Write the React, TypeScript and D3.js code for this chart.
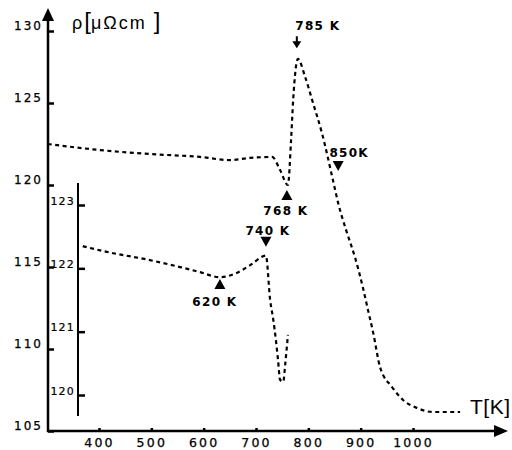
import { useEffect, useRef } from 'react'
import * as d3 from 'd3'

// upper curve, read on the outer rho axis (105..130 µΩcm)
const UPPER_T = [302, 402, 497, 593, 650, 688, 731, 746, 761, 767, 771, 780, 794, 809, 826, 847, 857, 874, 889, 904, 914, 924, 937, 960, 981, 1008, 1038, 1090]
const UPPER_RHO = [122.5, 122.13, 121.89, 121.71, 121.52, 121.65, 121.71, 120.91, 120.0, 122.74, 125.2, 128.06, 126.8, 125.0, 123.17, 120.3, 118.9, 117.07, 115.61, 113.78, 112.38, 110.98, 108.9, 107.68, 106.89, 106.4, 106.16, 106.16]

// lower curve, read on the inner axis (120..123 µΩcm)
const LOWER_T = [369, 415, 497, 555, 593, 631, 661, 689, 719, 727, 733, 738, 742, 746, 752, 756, 761]
const LOWER_RHO = [122.35, 122.26, 122.13, 122.02, 121.94, 121.86, 121.92, 122.05, 122.2, 121.5, 121.19, 120.87, 120.56, 120.24, 120.21, 120.5, 120.95]

const X_TICKS = [400, 500, 600, 700, 800, 900, 1000]
const Y_TICKS = [105, 110, 115, 120, 125, 130]
const INSET_TICKS = [120, 121, 122, 123]

// transition markers
const MARK_LABELS = ['785 K', '850K', '768 K', '740 K', '620 K']
const MARK_T = [778, 857, 759, 719, 631]
const MARK_RHO = [128.8, 120.85, 119.7, 122.34, 121.83]
const MARK_AXIS = ['outer', 'outer', 'outer', 'inner', 'inner']

const WIDTH = 512
const HEIGHT = 450

function App() {
  const svgRef = useRef<SVGSVGElement>(null)

  useEffect(() => {
    if (!svgRef.current) return
    const svg = d3.select(svgRef.current)
    svg.selectAll('*').remove()

    const originX = 48
    const originY = 431

    const x = d3.scaleLinear().domain([400, 1000]).range([99, 413])
    // the printed axis is not evenly spaced above 125
    const yOuter = d3.scaleLinear().domain([105, 125, 130]).range([originY, 103, 31])
    const yInner = d3.scaleLinear().domain([120, 123]).range([395, 205])
    const insetX = 78

    const ink = '#000'

    // curves
    const upper = d3.zip(UPPER_T, UPPER_RHO) as [number, number][]
    const lower = d3.zip(LOWER_T, LOWER_RHO) as [number, number][]

    const upperLine = d3.line<[number, number]>()
      .x(d => x(d[0]))
      .y(d => yOuter(d[1]))
      .curve(d3.curveMonotoneX)
    const lowerLine = d3.line<[number, number]>()
      .x(d => x(d[0]))
      .y(d => yInner(d[1]))
      .curve(d3.curveMonotoneX)

    svg.append('path')
      .datum(upper)
      .attr('d', upperLine)
      .attr('fill', 'none')
      .attr('stroke', ink)
      .attr('stroke-width', 2.2)
      .attr('stroke-dasharray', '4,3.5')

    svg.append('path')
      .datum(lower)
      .attr('d', lowerLine)
      .attr('fill', 'none')
      .attr('stroke', ink)
      .attr('stroke-width', 2.2)
      .attr('stroke-dasharray', '4,3.5')

    // x axis ticks + labels
    const xAxis = d3.axisBottom(x).tickValues(X_TICKS).tickSize(-3).tickPadding(7).tickFormat(d => `${d}`)
    const gx = svg.append('g').attr('transform', `translate(0,${originY})`).call(xAxis)
    gx.select('.domain').remove()
    gx.selectAll('line').attr('stroke', ink).attr('stroke-width', 2.5)
    gx.selectAll('text')
      .attr('fill', ink)
      .attr('stroke', ink)
      .attr('stroke-width', 0.25)
      .attr('font-family', 'DejaVu Sans')
      .attr('font-size', 12.5)
      .attr('letter-spacing', 2.2)

    // outer y axis
    const yAxis = d3.axisLeft(yOuter).tickValues(Y_TICKS).tickSize(-6).tickPadding(5).tickFormat(d => `${d}`)
    const gy = svg.append('g').attr('transform', `translate(${originX},0)`).call(yAxis)
    gy.select('.domain').remove()
    gy.selectAll('line').attr('stroke', ink).attr('stroke-width', 2.5)
    gy.selectAll('text')
      .attr('fill', ink)
      .attr('stroke', ink)
      .attr('stroke-width', 0.25)
      .attr('dy', -2)
      .attr('font-family', 'DejaVu Sans')
      .attr('font-size', 12)
      .attr('letter-spacing', 2)

    // inner axis for the lower curve
    const yAxis2 = d3.axisLeft(yInner).tickValues(INSET_TICKS).tickSize(-7).tickPadding(3).tickFormat(d => `${d}`)
    const gi = svg.append('g').attr('transform', `translate(${insetX},0)`).call(yAxis2)
    gi.select('.domain').remove()
    gi.selectAll('line').attr('stroke', ink).attr('stroke-width', 2.5)
    gi.selectAll('text')
      .attr('fill', ink)
      .attr('stroke', ink)
      .attr('stroke-width', 0.2)
      .attr('dy', -1)
      .attr('font-family', 'DejaVu Sans')
      .attr('font-size', 11)
      .attr('letter-spacing', 1.2)
    svg.append('line')
      .attr('x1', insetX).attr('x2', insetX)
      .attr('y1', 183).attr('y2', 416)
      .attr('stroke', ink).attr('stroke-width', 2)

    // main axis lines with arrow heads
    svg.append('line')
      .attr('x1', originX).attr('x2', originX)
      .attr('y1', originY + 1).attr('y2', 16)
      .attr('stroke', ink).attr('stroke-width', 2.5)
    svg.append('path')
      .attr('d', `M${originX},8 L${originX - 6},21 L${originX + 6},21 Z`)
      .attr('fill', ink)
    svg.append('line')
      .attr('x1', originX - 1).attr('x2', 498)
      .attr('y1', originY).attr('y2', originY)
      .attr('stroke', ink).attr('stroke-width', 2.5)
    svg.append('path')
      .attr('d', `M508,${originY} L494,${originY - 6} L494,${originY + 6} Z`)
      .attr('fill', ink)

    // axis titles
    svg.append('text')
      .attr('x', 470).attr('y', 414)
      .attr('font-family', 'Liberation Sans')
      .attr('font-size', 21)
      .attr('fill', ink)
      .attr('letter-spacing', 0.5)
      .text('T[K]')

    const rho = svg.append('text')
      .attr('x', 72).attr('y', 29)
      .attr('font-family', 'Liberation Sans')
      .attr('font-size', 18)
      .attr('fill', ink)
    rho.append('tspan').attr('letter-spacing', 2).text('ρ')
    rho.append('tspan').attr('font-size', 24).attr('font-weight', 300).text('[')
    rho.append('tspan').attr('letter-spacing', 2).text('μΩcm ')
    rho.append('tspan').attr('font-size', 24).attr('font-weight', 300).text(']')

    // markers: shape and label offset from the tip
    const layout: Record<string, { shape: string; dx: number; dy: number }> = {
      '785 K': { shape: 'arrow', dx: 21, dy: -18 },
      '850K': { shape: 'down', dx: 11, dy: -14 },
      '768 K': { shape: 'up', dx: -1, dy: 25 },
      '740 K': { shape: 'down', dx: 2, dy: -12 },
      '620 K': { shape: 'up', dx: -5, dy: 27 },
    }

    MARK_LABELS.forEach((label, i) => {
      const tx = x(MARK_T[i])
      const ty = MARK_AXIS[i] === 'inner' ? yInner(MARK_RHO[i]) : yOuter(MARK_RHO[i])
      const { shape, dx, dy } = layout[label]

      if (shape === 'down') {
        svg.append('path')
          .attr('d', `M${tx},${ty} L${tx - 5.5},${ty - 10} L${tx + 5.5},${ty - 10} Z`)
          .attr('fill', ink)
      } else if (shape === 'up') {
        svg.append('path')
          .attr('d', `M${tx},${ty} L${tx - 5.5},${ty + 10} L${tx + 5.5},${ty + 10} Z`)
          .attr('fill', ink)
      } else {
        svg.append('line')
          .attr('x1', tx).attr('x2', tx)
          .attr('y1', ty - 12).attr('y2', ty - 5)
          .attr('stroke', ink).attr('stroke-width', 2)
        svg.append('path')
          .attr('d', `M${tx},${ty} L${tx - 4.5},${ty - 7} L${tx + 4.5},${ty - 7} Z`)
          .attr('fill', ink)
      }

      svg.append('text')
        .attr('x', tx + dx)
        .attr('y', ty + dy)
        .attr('text-anchor', 'middle')
        .attr('font-family', 'DejaVu Sans')
        .attr('font-weight', 'bold')
        .attr('font-size', 12)
        .attr('letter-spacing', 1.3)
        .attr('fill', ink)
        .text(label)
    })
  }, [])

  return (
    <svg
      ref={svgRef}
      width={WIDTH}
      height={HEIGHT}
      style={{ position: 'absolute', left: 0, top: 0, background: '#fff' }}
    />
  )
}

export default App
